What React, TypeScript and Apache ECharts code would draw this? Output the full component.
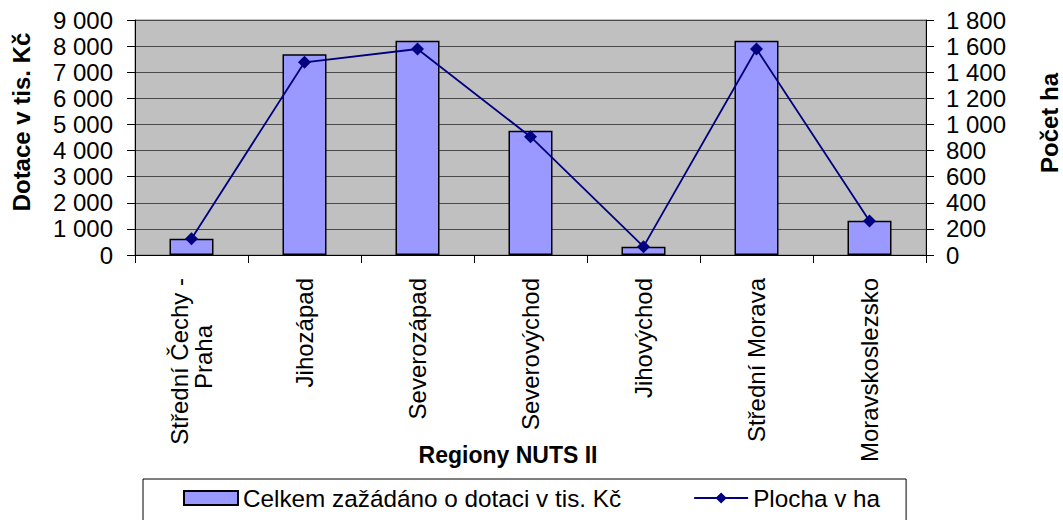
import React, { useEffect, useRef } from "react";
import * as echarts from "echarts";

const categories = [
  "Střední Čechy -\nPraha",
  "Jihozápad",
  "Severozápad",
  "Severovýchod",
  "Jihovýchod",
  "Střední Morava",
  "Moravskoslezsko",
];
const dotace = [620, 7690, 8210, 4760, 320, 8210, 1310];
const plocha = [125, 1476, 1578, 906, 64, 1578, 260];
const barName = "Celkem zažádáno o dotaci v tis. Kč";
const lineName = "Plocha v ha";
const leftTitle = "Dotace v tis. Kč";
const rightTitle = "Počet ha";
const xTitle = "Regiony NUTS II";

const FONT = "'Liberation Sans', Arial, sans-serif";
const FS = 24;
const fmt = (v: number) => String(v).replace(/\B(?=(\d{3})+(?!\d))/g, " ");

export default function App() {
  const ref = useRef<HTMLDivElement>(null);
  useEffect(() => {
    if (!ref.current) return;
    const chart = echarts.init(ref.current, undefined, { renderer: "svg" });
    chart.setOption({
      animation: false,
      backgroundColor: "#ffffff",
      textStyle: { fontFamily: FONT },
      grid: {
        left: 135,
        right: 137,
        top: 20,
        bottom: 265,
        show: true,
        backgroundColor: "#c0c0c0",
        borderColor: "#808080",
        borderWidth: 1,
        outerBoundsMode: "none",
        containLabel: false,
      },
      legend: {
        left: 143,
        top: 479,
        padding: [7, 26, 20, 40],
        itemGap: 72,
        borderColor: "#000",
        borderWidth: 1,
        itemWidth: 54,
        itemHeight: 14,
        textStyle: { fontSize: 24.3, color: "#000", fontFamily: FONT },
        data: [
          { name: barName, icon: "rect" },
          { name: lineName },
        ],
      },
      xAxis: {
        type: "category",
        data: categories,
        boundaryGap: true,
        axisLine: { lineStyle: { color: "#000", width: 1 } },
        axisTick: { show: true, length: 8, lineStyle: { color: "#000" } },
        axisLabel: {
          rotate: 90,
          margin: 23,
          fontSize: FS,
          color: "#000",
          fontFamily: FONT,
          interval: 0,
          formatter: (v: string, i: number) => {
            if (i !== 0) return v;
            const parts = v.split("\n");
            return "{c|" + parts[0] + "}\n{p|" + parts[1] + "}";
          },
          rich: {
            c: { fontSize: FS, fontFamily: FONT, color: "#000" },
            p: { fontSize: FS, fontFamily: FONT, color: "#000", padding: [0, 47, 0, 0] },
          },
        },
        splitLine: { show: false },
      },
      yAxis: [
        {
          type: "value",
          min: 0,
          max: 9000,
          interval: 1000,
          position: "left",
          axisLine: { show: true, lineStyle: { color: "#000" } },
          axisTick: { show: true, length: 8, lineStyle: { color: "#000" } },
          axisLabel: {
            margin: 22,
            fontSize: FS,
            color: "#000",
            fontFamily: FONT,
            formatter: (v: number) => fmt(v),
          },
          splitLine: { show: true, lineStyle: { color: "#4a4a4a", width: 1 } },
        },
        {
          type: "value",
          min: 0,
          max: 1800,
          interval: 200,
          position: "right",
          axisLine: { show: true, lineStyle: { color: "#000" } },
          axisTick: { show: true, length: 8, lineStyle: { color: "#000" } },
          axisLabel: {
            margin: 20,
            fontSize: FS,
            color: "#000",
            fontFamily: FONT,
            formatter: (v: number) => fmt(v),
          },
          splitLine: { show: false },
        },
      ],
      graphic: [
        {
          type: "text",
          x: 21,
          y: 122,
          rotation: Math.PI / 2,
          style: {
            text: leftTitle,
            fontSize: 24,
            fontWeight: "bold",
            fontFamily: FONT,
            fill: "#000",
            align: "center",
            verticalAlign: "middle",
          },
        },
        {
          type: "text",
          x: 1049,
          y: 123,
          rotation: Math.PI / 2,
          style: {
            text: rightTitle,
            fontSize: 24,
            fontWeight: "bold",
            fontFamily: FONT,
            fill: "#000",
            align: "center",
            verticalAlign: "middle",
          },
        },
        {
          type: "text",
          x: 508,
          y: 455,
          style: {
            text: xTitle,
            fontSize: 23,
            fontWeight: "bold",
            fontFamily: FONT,
            fill: "#000",
            align: "center",
            verticalAlign: "middle",
          },
        },
      ],
      series: [
        {
          name: barName,
          type: "bar",
          data: dotace,
          barWidth: 44,
          itemStyle: { color: "#9999ff", borderColor: "#000", borderWidth: 1.5 },
        },
        {
          name: lineName,
          type: "line",
          yAxisIndex: 1,
          data: plocha,
          symbol: "diamond",
          symbolSize: 13,
          lineStyle: { color: "#000080", width: 1.8 },
          itemStyle: { color: "#000080" },
        },
      ],
    });
    return () => chart.dispose();
  }, []);
  return (
    <div
      ref={ref}
      style={{ position: "fixed", left: 0, top: 0, width: 1063, height: 520 }}
    />
  );
}
